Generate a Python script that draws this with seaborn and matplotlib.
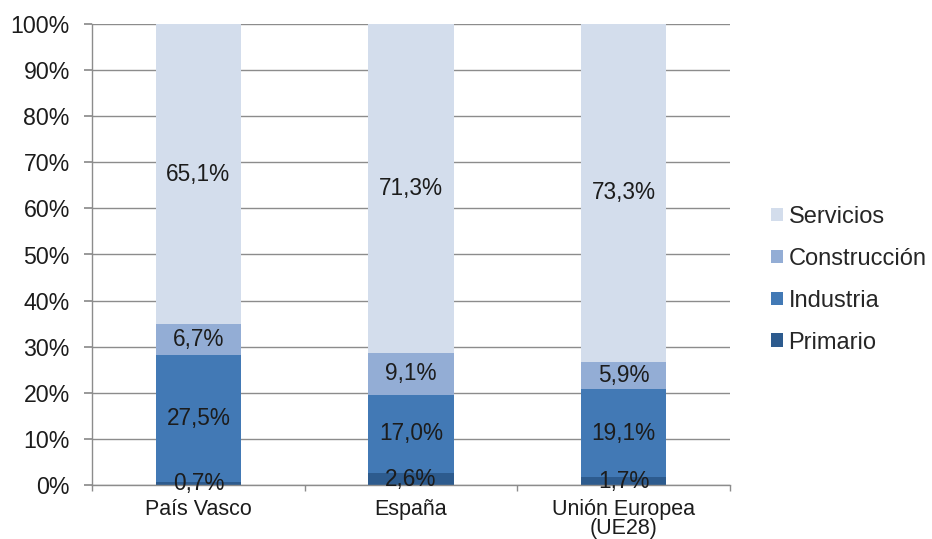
import matplotlib
matplotlib.use("Agg")
import matplotlib.pyplot as plt
from matplotlib.patches import Patch
import seaborn as sns
import pandas as pd
import numpy as np

categories = ["País Vasco", "España", "Unión Europea\n(UE28)"]
series_names = ["Primario", "Industria", "Construcción", "Servicios"]
primario = [0.7, 2.6, 1.7]
industria = [27.5, 17.0, 19.1]
construccion = [6.7, 9.1, 5.9]
servicios = [65.1, 71.3, 73.3]
colors = ["#2D5B8E", "#4279B5", "#93ADD5", "#D3DDEC"]

sns.set_theme(style="white")
plt.rcParams['font.family'] = ['Liberation Sans', 'DejaVu Sans']

fig = plt.figure(figsize=(9.32, 5.39), dpi=100)
ax = fig.add_axes([92/932, 54/539, 638/932, 461/539])

txt = "#1c1c1c"
values = [primario, industria, construccion, servicios]
bottom = np.zeros(len(categories))
for name, vals, col in zip(series_names, values, colors):
    df = pd.DataFrame({"cat": categories, "val": vals})
    sns.barplot(data=df, x="cat", y="val", color=col, bottom=bottom, width=0.4,
                saturation=1, ax=ax, edgecolor="none", linewidth=0)
    cont = ax.containers[-1]
    ax.bar_label(cont, labels=[f"{v:.1f}%".replace(".", ",") for v in vals],
                 label_type="center", fontsize=16.3, color=txt)
    bottom = bottom + np.array(vals)

ax.set_xlim(-0.5, 2.5)
ax.set_ylim(0, 100)
ax.set_yticks(np.arange(0, 101, 10))
ax.set_yticklabels([f"{v}%" for v in range(0, 101, 10)], fontsize=16.7, color=txt)
ax.set_xticks([0, 1, 2])
ax.set_xticklabels(categories, fontsize=15.5, color=txt, linespacing=0.88)
ax.set_xlabel("")
ax.set_ylabel("")
ax.set_axisbelow(True)
ax.yaxis.grid(True, color="#8c8c8c", linewidth=1)
for s in ["top", "right"]:
    ax.spines[s].set_visible(False)
for s in ["left", "bottom"]:
    ax.spines[s].set_color("#8c8c8c")
    ax.spines[s].set_linewidth(1)
ax.tick_params(axis="y", which="major", left=True, length=6, color="#8c8c8c", pad=10)
ax.tick_params(axis="x", which="major", bottom=False, pad=4)
ax.set_xticks([-0.5, 0.5, 1.5, 2.5], minor=True)
ax.tick_params(axis="x", which="minor", bottom=True, length=4, color="#8c8c8c")

handles = [Patch(facecolor=c, edgecolor="none") for c in colors[::-1]]
ax.legend(handles, series_names[::-1], loc="center left", bbox_to_anchor=(1.064, 0.445),
          frameon=False, fontsize=17, handlelength=0.5, handleheight=0.5,
          handletextpad=0.25, labelspacing=0.84, borderaxespad=0, borderpad=0)

fig.savefig("out.png", dpi=100)
